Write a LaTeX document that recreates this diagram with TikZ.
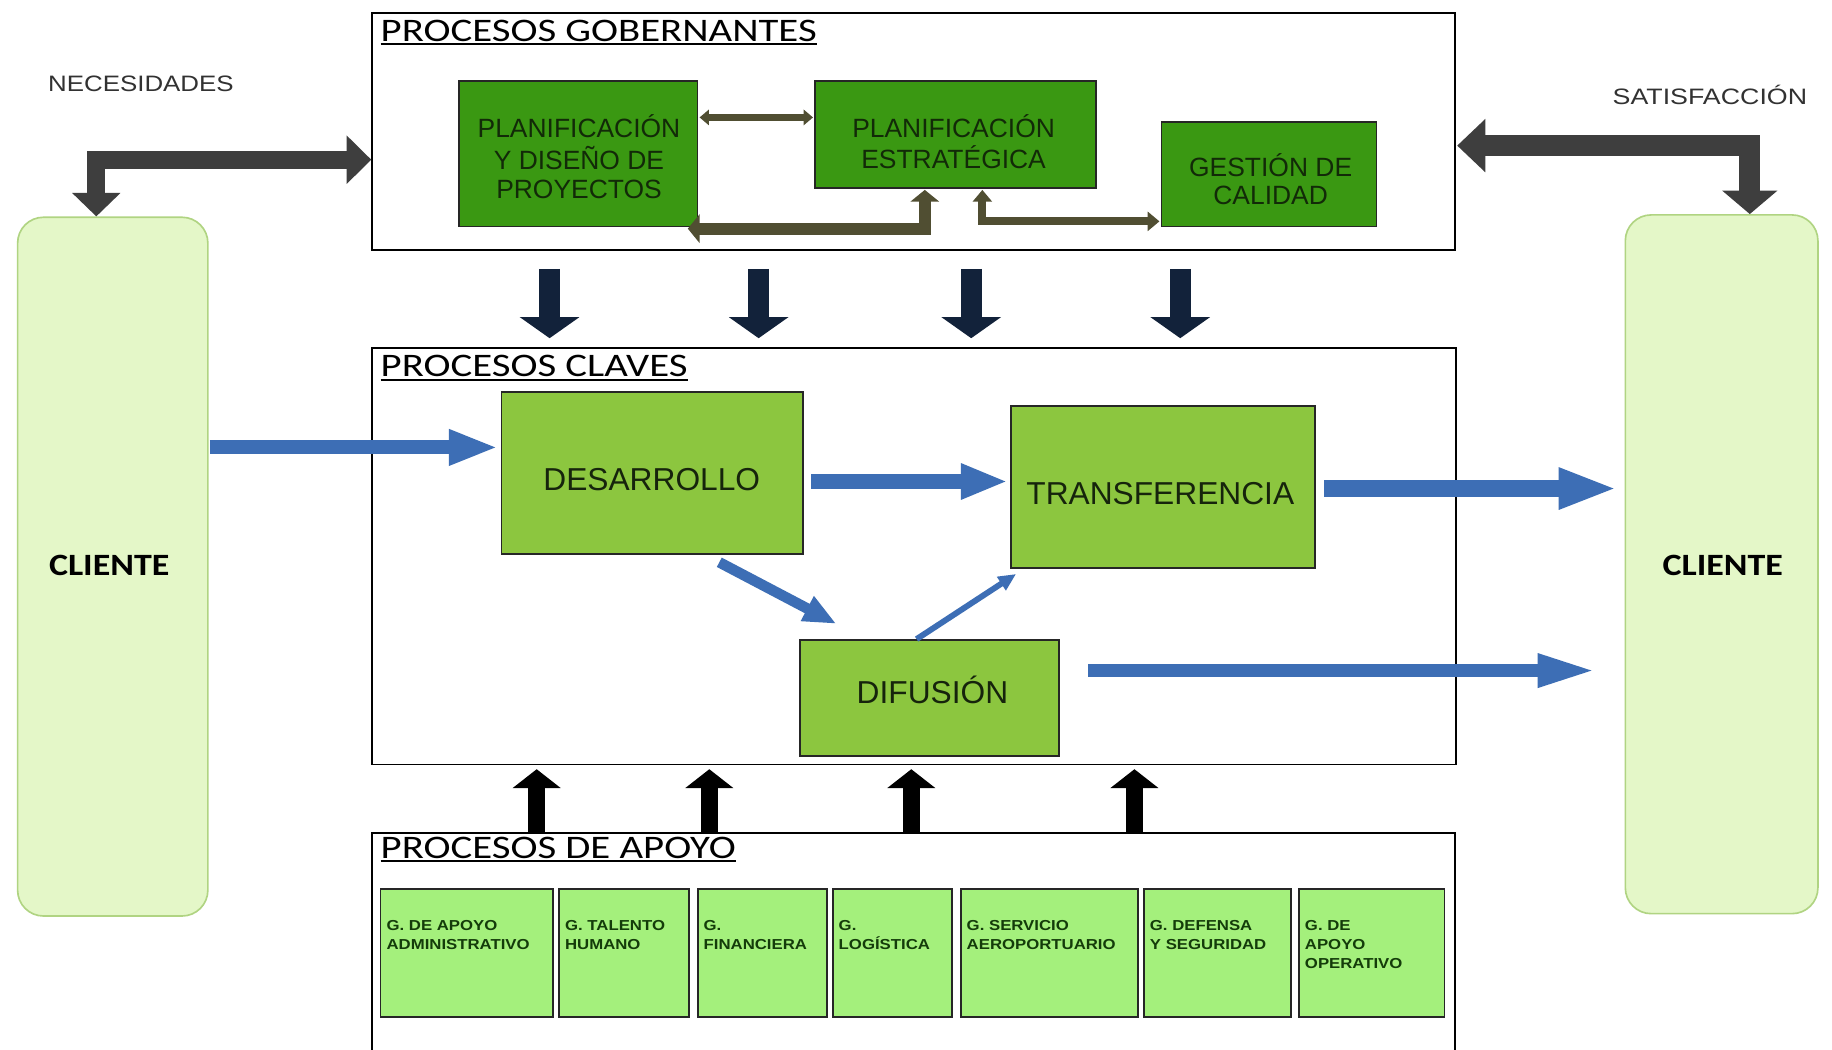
\documentclass[tikz,border=0pt]{standalone}
\usepackage{fontspec}
\setmainfont{Liberation Sans}
\newfontfamily\calfont{Carlito}
\usetikzlibrary{arrows.meta,calc}
\definecolor{gdark}{RGB}{58,152,18}
\definecolor{gtxt}{RGB}{18,42,8}
\definecolor{gmid}{RGB}{140,198,63}
\definecolor{mtxt}{RGB}{22,36,12}
\definecolor{glight}{RGB}{164,240,124}
\definecolor{stxt}{RGB}{20,60,10}
\definecolor{cfill}{RGB}{228,247,200}
\definecolor{cborder}{RGB}{176,212,130}
\definecolor{blueA}{RGB}{61,110,181}
\definecolor{navy}{RGB}{18,34,58}
\definecolor{darkg}{RGB}{62,62,62}
\definecolor{oliveA}{RGB}{80,78,50}
\definecolor{lblc}{RGB}{50,50,50}
\newcommand\myul[1]{\setbox0\hbox{#1}\rlap{\rule[-3.2pt]{\wd0}{1.5pt}}\box0}
\begin{document}
\begin{tikzpicture}[x=1pt,y=-1pt,
  frame/.style={draw=black, line width=1.6pt, fill=white, inner sep=0pt},
  gbox/.style={draw=black!85, line width=1.4pt, fill=gdark, inner sep=0pt},
  mbox/.style={draw=black!85, line width=1.6pt, fill=gmid, inner sep=0pt},
  sbox/.style={draw=black!85, line width=1.6pt, fill=glight, inner sep=0pt, minimum height=109pt},
  client/.style={draw=cborder, line width=1.4pt, fill=cfill, rounded corners=22pt, inner sep=0pt},
  gtext/.style={font=\fontsize{22.5}{24.5}\selectfont, text=gtxt, inner sep=0pt, anchor=base},
  mtext/.style={font=\fontsize{27}{32}\selectfont, text=mtxt, inner sep=0pt, anchor=base},
  stext/.style={font=\bfseries\fontsize{12.3}{16.3}\selectfont, text=stxt, inner sep=0pt, anchor=base west},
  titletext/.style={font=\calfont\fontsize{28}{32}\selectfont, text=black, inner sep=0pt, anchor=base west},
  lbl/.style={font=\fontsize{19}{23}\selectfont, text=lblc, inner sep=0pt, anchor=base},
  cli/.style={font=\calfont\bfseries\fontsize{26.4}{30}\selectfont, text=black, inner sep=0pt, anchor=base},
  bentarrow/.style={draw=darkg, line join=miter},
  downarrow/.style={draw=navy, line width=18pt, -{Triangle[width=50pt,length=18pt]}},
  uparrow/.style={draw=black, line width=14pt, -{Triangle[width=40pt,length=16pt]}},
  bluearrow/.style={draw=blueA},
  olivearrow/.style={draw=oliveA, line join=miter}
]
\useasboundingbox (0,0) rectangle (1560,894);
\fill[white] (0,0) rectangle (1560,894);

% clients
\node[client, minimum width=162pt, minimum height=595pt] (cl1) at (96,482.5) {};
\node[client, minimum width=164pt, minimum height=595pt] (cl2) at (1466,480.5) {};
\node[cli] (cl1t) at (93,490) {\scalebox{1.16}[1]{CLIENTE}};
\node[cli] (cl2t) at (1467,490) {\scalebox{1.16}[1]{CLIENTE}};

% labels
\node[lbl] (nec) at (120,78) {\scalebox{1.16}[1]{NECESIDADES}};
\node[lbl] (sat) at (1456,89) {\scalebox{1.2}[1]{SATISFACCIÓN}};

% frames
\node[frame, minimum width=922pt, minimum height=202pt] (gob) at (778,112) {};
\node[frame, minimum width=923pt, minimum height=355pt] (cla) at (778.5,473.5) {};
\node[frame, minimum width=922pt, minimum height=221pt] (apo) at (778,819.5) {};

\node[titletext] (tgob) at (324,35) {\scalebox{1.24}[1]{\myul{PROCESOS GOBERNANTES}}};
\node[titletext] (tcla) at (324,321) {\scalebox{1.24}[1]{\myul{PROCESOS CLAVES}}};
\node[titletext] (tapo) at (324,731) {\scalebox{1.24}[1]{\myul{PROCESOS DE APOYO}}};

% governing processes
\node[gbox, minimum width=203pt, minimum height=124pt] (pdp) at (492.5,131) {};
\node[gbox, minimum width=239pt, minimum height=91pt] (pe) at (813.5,114.5) {};
\node[gbox, minimum width=183pt, minimum height=89pt] (gc) at (1080.5,148.5) {};
\node[gtext] (pdpt) at (493,117) {\begin{tabular}[t]{@{}c@{}}PLANIFICACIÓN\\Y DISEÑO DE\\PROYECTOS\end{tabular}};
\node[gtext] (pet) at (812,117) {\begin{tabular}[t]{@{}c@{}}PLANIFICACIÓN\\ESTRATÉGICA\end{tabular}};
\node[gtext] (gct) at (1082,150) {\begin{tabular}[t]{@{}c@{}}GESTIÓN DE\\CALIDAD\end{tabular}};

\draw[olivearrow, line width=5.5pt, {Triangle[width=13pt,length=8pt]}-{Triangle[width=13pt,length=8pt]}]
  ($(pdp.east)+(1,-31)$) -- ($(pe.west)+(-1,-14.5)$);
\draw[olivearrow, line width=10pt, {Triangle[width=24pt,length=10pt]}-{Triangle[width=24pt,length=10pt]}]
  ($(pe.south)+(-26,1)$) |- ($(pdp.south east)+(-9,1)$);
\draw[olivearrow, line width=7pt, {Triangle[width=16pt,length=10pt]}-{Triangle[width=16pt,length=10pt]}]
  ($(pe.south)+(23,1)$) |- ($(gc.west)+(-1,40)$);

% key processes
\node[mbox, minimum width=257pt, minimum height=138pt] (des) at (555.5,403) {};
\node[mbox, minimum width=259pt, minimum height=138pt] (tra) at (990.5,415) {};
\node[mbox, minimum width=221pt, minimum height=99pt] (dif) at (791.5,594.5) {};
\node[mtext] (dest) at (555,418) {DESARROLLO};
\node[mtext] (trat) at (988,430) {TRANSFERENCIA};
\node[mtext] (dift) at (794,599) {DIFUSIÓN};

% support processes
\node[sbox, minimum width=147pt] (s1) at (397.5,811.5) {};
\node[sbox, minimum width=111pt] (s2) at (531.5,811.5) {};
\node[sbox, minimum width=110pt] (s3) at (649,811.5) {};
\node[sbox, minimum width=102pt] (s4) at (760,811.5) {};
\node[sbox, minimum width=151pt] (s5) at (893.5,811.5) {};
\node[sbox, minimum width=125pt] (s6) at (1036.5,811.5) {};
\node[sbox, minimum width=124pt] (s7) at (1168,811.5) {};
\node[stext] (s1t) at (329,792.5) {\scalebox{1.16}[1]{\begin{tabular}[t]{@{}l@{}}G. DE APOYO\\ADMINISTRATIVO\end{tabular}}};
\node[stext] (s2t) at (481,792.5) {\scalebox{1.16}[1]{\begin{tabular}[t]{@{}l@{}}G. TALENTO\\HUMANO\end{tabular}}};
\node[stext] (s3t) at (599,792.5) {\scalebox{1.16}[1]{\begin{tabular}[t]{@{}l@{}}G.\\FINANCIERA\end{tabular}}};
\node[stext] (s4t) at (714,792.5) {\scalebox{1.16}[1]{\begin{tabular}[t]{@{}l@{}}G.\\LOGÍSTICA\end{tabular}}};
\node[stext] (s5t) at (823,792.5) {\scalebox{1.16}[1]{\begin{tabular}[t]{@{}l@{}}G. SERVICIO\\AEROPORTUARIO\end{tabular}}};
\node[stext] (s6t) at (979,792.5) {\scalebox{1.16}[1]{\begin{tabular}[t]{@{}l@{}}G. DEFENSA\\Y SEGURIDAD\end{tabular}}};
\node[stext] (s7t) at (1111,792.5) {\scalebox{1.16}[1]{\begin{tabular}[t]{@{}l@{}}G. DE\\APOYO\\OPERATIVO\end{tabular}}};

% bent arrows
\draw[bentarrow, line width=15pt, {Triangle[width=40pt,length=21pt]}-{Triangle[width=40pt,length=20pt]}]
  ($(gob.west)+(0,24)$) -| ($(cl1.north)+(-14,0)$);
\draw[bentarrow, line width=18pt, {Triangle[width=44pt,length=24pt]}-{Triangle[width=46pt,length=20pt]}]
  ($(gob.east)+(1,12)$) -| ($(cl2.north)+(24,0)$);

% down arrows
\coordinate (d1a) at (468,229); \coordinate (d1b) at (468,288);
\coordinate (d2a) at (646,229); \coordinate (d2b) at (646,288);
\coordinate (d3a) at (827,229); \coordinate (d3b) at (827,288);
\coordinate (d4a) at (1005,229); \coordinate (d4b) at (1005,288);
\draw[downarrow] (d1a) -- (d1b);
\draw[downarrow] (d2a) -- (d2b);
\draw[downarrow] (d3a) -- (d3b);
\draw[downarrow] (d4a) -- (d4b);

% up arrows
\draw[uparrow] (apo.north -| 457,0) -- (457,655);
\draw[uparrow] (apo.north -| 604,0) -- (604,655);
\draw[uparrow] (apo.north -| 776,0) -- (776,655);
\draw[uparrow] (apo.north -| 966,0) -- (966,655);

% blue flow arrows
\draw[bluearrow, line width=12pt, -{Triangle[width=28pt,length=42pt]}]
  ($(cl1.east)+(1,-101.5)$) -- ($(des.west)+(-2,-22)$);
\draw[bluearrow, line width=12pt, -{Triangle[width=28pt,length=40pt]}]
  ($(des.east)+(6,7)$) -- ($(tra.west)+(-2,-5)$);
\draw[bluearrow, line width=14pt, -{Triangle[width=32pt,length=50pt]}]
  ($(tra.east)+(7,1)$) -- ($(cl2.west)+(-6,-64.5)$);
\draw[bluearrow, line width=9pt, -{Triangle[width=22pt,length=28pt]}]
  ($(des.south)+(57,6)$) -- ($(dif.north west)+(32,-13)$);
\draw[bluearrow, line width=5pt, -{Triangle[width=13pt,length=15pt]}]
  ($(dif.north)+(-11,0)$) -- ($(tra.south west)+(5,4)$);
\draw[bluearrow, line width=11pt, -{Triangle[width=26pt,length=50pt]}]
  ($(dif.east)+(24,-23.5)$) -- ($(cl2.west)+(-24,90.5)$);
\end{tikzpicture}
\end{document}
